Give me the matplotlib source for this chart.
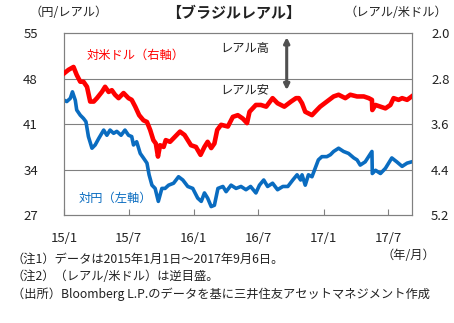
import matplotlib
matplotlib.use("Agg")
import matplotlib.pyplot as plt
import pandas as pd

plt.rcParams['font.family'] = ['Noto Sans CJK JP', 'DejaVu Sans']

# BRL per USD (right axis, inverted)
usd_dates = ['2015-01-01', '2015-01-13', '2015-01-27', '2015-02-05', '2015-02-15', '2015-02-24',
             '2015-03-06', '2015-03-15', '2015-03-25', '2015-04-03', '2015-04-17', '2015-04-26',
             '2015-05-06', '2015-05-15', '2015-05-24', '2015-06-03', '2015-06-17', '2015-07-01',
             '2015-07-10', '2015-07-20', '2015-07-31', '2015-08-12', '2015-08-22', '2015-08-31',
             '2015-09-09', '2015-09-16', '2015-09-22', '2015-09-28', '2015-10-08', '2015-10-14',
             '2015-10-26', '2015-11-09', '2015-11-23', '2015-12-06', '2015-12-24', '2016-01-07',
             '2016-01-20', '2016-01-31', '2016-02-09', '2016-02-19', '2016-02-28', '2016-03-07',
             '2016-03-18', '2016-04-06', '2016-04-20', '2016-05-04', '2016-05-18', '2016-05-30',
             '2016-06-06', '2016-06-24', '2016-07-08', '2016-07-23', '2016-08-10', '2016-08-24',
             '2016-09-12', '2016-10-01', '2016-10-15', '2016-10-23', '2016-11-01', '2016-11-10',
             '2016-11-29', '2016-12-08', '2016-12-22', '2017-01-10', '2017-01-29', '2017-02-12',
             '2017-03-03', '2017-03-17', '2017-04-05', '2017-04-24', '2017-05-08', '2017-05-17',
             '2017-05-18', '2017-05-27', '2017-06-10', '2017-06-24', '2017-07-08', '2017-07-17',
             '2017-07-31', '2017-08-10', '2017-08-24', '2017-09-06']
usd_values = [2.70, 2.64, 2.59, 2.73, 2.85, 2.85,
              2.94, 3.20, 3.20, 3.14, 3.03, 2.94,
              3.03, 3.00, 3.08, 3.14, 3.05, 3.14,
              3.17, 3.29, 3.44, 3.53, 3.56, 3.70,
              3.88, 3.94, 4.17, 3.97, 4.00, 3.88,
              3.91, 3.82, 3.73, 3.79, 3.97, 4.00,
              4.14, 4.00, 3.91, 4.02, 3.94, 3.70,
              3.61, 3.64, 3.47, 3.44, 3.50, 3.58,
              3.38, 3.26, 3.26, 3.29, 3.14, 3.23,
              3.29, 3.20, 3.14, 3.14, 3.23, 3.38,
              3.44, 3.38, 3.29, 3.20, 3.11, 3.08,
              3.14, 3.08, 3.11, 3.11, 3.14, 3.17,
              3.35, 3.26, 3.29, 3.32, 3.26, 3.14,
              3.17, 3.14, 3.17, 3.11]

# JPY per BRL (left axis)
jpy_dates = ['2015-01-01', '2015-01-08', '2015-01-18', '2015-01-24', '2015-02-01', '2015-02-05',
             '2015-02-15', '2015-02-24', '2015-03-03', '2015-03-10', '2015-03-20', '2015-03-29',
             '2015-04-08', '2015-04-22', '2015-05-01', '2015-05-10', '2015-05-20', '2015-05-29',
             '2015-06-10', '2015-06-21', '2015-07-01', '2015-07-10', '2015-07-15', '2015-07-24',
             '2015-08-03', '2015-08-12', '2015-08-22', '2015-08-28', '2015-09-05', '2015-09-14',
             '2015-09-23', '2015-10-03', '2015-10-12', '2015-10-22', '2015-11-05', '2015-11-19',
             '2015-12-01', '2015-12-15', '2015-12-29', '2016-01-12', '2016-01-22', '2016-01-31',
             '2016-02-09', '2016-02-19', '2016-02-28', '2016-03-09', '2016-03-23', '2016-04-01',
             '2016-04-15', '2016-04-29', '2016-05-13', '2016-05-27', '2016-06-09', '2016-06-24',
             '2016-07-04', '2016-07-16', '2016-07-27', '2016-08-10', '2016-08-24', '2016-09-08',
             '2016-09-22', '2016-10-06', '2016-10-18', '2016-10-28', '2016-11-01', '2016-11-10',
             '2016-11-19', '2016-11-29', '2016-12-08', '2016-12-17', '2016-12-27', '2017-01-10',
             '2017-01-20', '2017-01-29', '2017-02-12', '2017-02-26', '2017-03-12', '2017-03-27',
             '2017-04-05', '2017-04-14', '2017-04-28', '2017-05-17', '2017-05-18', '2017-05-27',
             '2017-06-10', '2017-06-24', '2017-07-12', '2017-07-26', '2017-08-10', '2017-08-24',
             '2017-09-06']
jpy_values = [44.7, 44.5, 45.0, 46.0, 44.7, 43.2,
              42.4, 41.9, 41.4, 39.1, 37.3, 37.8,
              38.8, 40.1, 39.3, 40.1, 39.6, 39.9,
              39.3, 40.1, 39.3, 39.1, 37.8, 38.3,
              36.5, 35.8, 35.0, 33.2, 31.6, 31.1,
              29.1, 31.1, 31.1, 31.6, 31.9, 32.9,
              32.4, 31.4, 31.1, 29.6, 29.1, 30.4,
              29.6, 28.3, 28.5, 31.1, 31.4, 30.6,
              31.6, 31.1, 31.4, 30.9, 31.4, 30.4,
              31.6, 32.4, 31.4, 31.9, 30.9, 31.4,
              31.4, 32.4, 33.2, 32.4, 33.2, 31.6,
              33.2, 32.9, 34.2, 35.5, 36.0, 36.0,
              36.3, 36.8, 37.3, 36.8, 36.5, 35.8,
              35.5, 34.7, 35.2, 36.8, 33.4, 33.9,
              33.4, 34.2, 35.8, 35.2, 34.5, 35.0,
              35.2]

left_ticks = [27, 34, 41, 48, 55]
right_ticks = [2.0, 2.8, 3.6, 4.4, 5.2]
x_tick_dates = ['2015-01-01', '2015-07-01', '2016-01-01', '2016-07-01', '2017-01-01', '2017-07-01']
x_tick_labels = ['15/1', '15/7', '16/1', '16/7', '17/1', '17/7']

RED = '#FF0000'
BLUE = '#0A6CC0'
GRAY = '#808080'
TXT = '#222222'

fig = plt.figure(figsize=(4.54, 3.23), dpi=100)
ax = fig.add_axes([0.1416, 0.3344, 0.7652, 0.5619])
ax2 = ax.twinx()

ax.plot(pd.to_datetime(jpy_dates), jpy_values, color=BLUE, lw=2.6,
        solid_joinstyle='round', zorder=3)
ax2.plot(pd.to_datetime(usd_dates), usd_values, color=RED, lw=3.3,
         solid_joinstyle='round', zorder=3)

ax.set_xlim(pd.Timestamp('2015-01-01'), pd.Timestamp('2017-09-06'))
ax.set_ylim(27, 55)
ax2.set_ylim(5.2, 2.0)

ax.set_yticks(left_ticks)
ax.set_yticklabels([str(v) for v in left_ticks])
ax2.set_yticks(right_ticks)
ax2.set_yticklabels([f'{v:.1f}' for v in right_ticks])
ax.set_xticks(pd.to_datetime(x_tick_dates))
ax.set_xticklabels(x_tick_labels)

for v in left_ticks[1:-1]:
    ax.axhline(v, color=GRAY, lw=0.8, zorder=1)

for a in (ax, ax2):
    for s in a.spines.values():
        s.set_color(GRAY)
        s.set_linewidth(0.8)

ax.tick_params(axis='y', length=0, pad=19, labelsize=9.5, labelcolor=TXT)
ax2.tick_params(axis='y', length=0, pad=14, labelsize=9.5, labelcolor=TXT)
ax.tick_params(axis='x', direction='in', length=4, color=GRAY, pad=12, labelsize=9.5,
               labelcolor=TXT)

# title and axis units
fig.text(0.514, 0.960, '【ブラジルレアル】', ha='center', va='center', fontsize=10.8,
         fontweight='bold', color=TXT)
fig.text(0.066, 0.960, '（円/レアル）', ha='left', va='center', fontsize=8.8, color=TXT)
fig.text(0.985, 0.960, '（レアル/米ドル）', ha='right', va='center', fontsize=8.8, color=TXT)

# series labels inside the plot
fig.text(0.190, 0.830, '対米ドル（右軸）', ha='left', va='center', fontsize=8.8, color=RED)
fig.text(0.174, 0.387, '対円（左軸）', ha='left', va='center', fontsize=8.8, color=BLUE)

fig.text(0.485, 0.851, 'レアル高', ha='left', va='center', fontsize=8.8, color=TXT)
fig.text(0.485, 0.721, 'レアル安', ha='left', va='center', fontsize=8.8, color=TXT)
ax.annotate('', xy=(0.6315, 0.885), xytext=(0.6315, 0.721), xycoords='figure fraction',
            arrowprops=dict(arrowstyle='<|-|>', color='#505050', lw=2.2, mutation_scale=8,
                            shrinkA=0, shrinkB=0))

# footnotes
fig.text(0.958, 0.210, '（年/月）', ha='right', va='center', fontsize=8.8, color=TXT)
notes = ['（注1）データは2015年1月1日～2017年9月6日。',
         '（注2）（レアル/米ドル）は逆目盛。',
         '（出所）Bloomberg L.P.のデータを基に三井住友アセットマネジメント作成']
for i, line in enumerate(notes):
    fig.text(0.026, 0.198 - i * 0.054, line, ha='left', va='center', fontsize=8.8, color=TXT)

fig.savefig('out.png', dpi=100)
